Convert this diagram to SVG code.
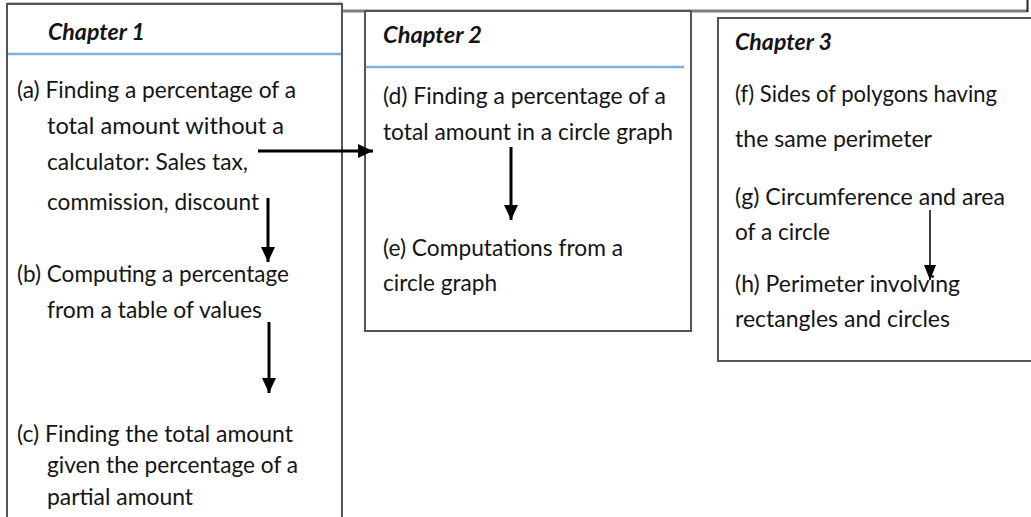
<svg xmlns="http://www.w3.org/2000/svg" width="1031" height="517" viewBox="0 0 1031 517">
<defs>
<style>
.t{font-family:"Lato","Liberation Sans",sans-serif;font-size:23px;fill:#141414}
.h{font-family:"Lato","Liberation Sans",sans-serif;font-size:22px;font-weight:bold;font-style:italic;fill:#141414}
.box{fill:#fff;stroke:#555;stroke-width:2}
.sep{stroke:#7fb1de;stroke-width:2.5}
.frame{stroke:#808080;stroke-width:3;fill:none}
.c{stroke:#000;stroke-width:3;fill:none}
.thin{stroke:#000;stroke-width:1.5;fill:none}
</style>
<marker id="ah" markerUnits="userSpaceOnUse" markerWidth="16" markerHeight="14" refX="15" refY="7" orient="auto">
<path d="M0,0 L15,7 L0,14 Z" fill="#000"/>
</marker>
<marker id="ahs" markerUnits="userSpaceOnUse" markerWidth="16" markerHeight="14" refX="15" refY="6" orient="auto">
<path d="M0,0 L15,6 L0,12 Z" fill="#000"/>
</marker>
</defs>
<rect width="1031" height="517" fill="#fff"/>
<g id="frame">
<line class="frame" x1="7" y1="4" x2="342" y2="4"/>
<line class="frame" x1="342" y1="11" x2="1027" y2="11"/>
<line x1="1027.5" y1="0" x2="1027.5" y2="12" stroke="#222" stroke-width="2"/>
</g>
<g id="chapter1">
<path class="box" d="M7,520 L7,4 L342,4 L342,520"/>
<line class="sep" x1="8" y1="54" x2="341" y2="54"/>
<text class="h" x="48" y="40" textLength="97" lengthAdjust="spacingAndGlyphs">Chapter 1</text>
<g id="item-a">
<text class="t" x="17" y="98" textLength="279" lengthAdjust="spacingAndGlyphs">(a) Finding a percentage of a</text>
<text class="t" x="47" y="134" textLength="237" lengthAdjust="spacingAndGlyphs">total amount without a</text>
<text class="t" x="47" y="170" textLength="201" lengthAdjust="spacingAndGlyphs">calculator: Sales tax,</text>
<text class="t" x="47" y="210" textLength="212" lengthAdjust="spacingAndGlyphs">commission, discount</text>
</g>
<g id="item-b">
<text class="t" x="17" y="282" textLength="272" lengthAdjust="spacingAndGlyphs">(b) Computing a percentage</text>
<text class="t" x="47" y="318" textLength="215" lengthAdjust="spacingAndGlyphs">from a table of values</text>
</g>
<g id="item-c">
<text class="t" x="17" y="442" textLength="276" lengthAdjust="spacingAndGlyphs">(c) Finding the total amount</text>
<text class="t" x="47" y="473" textLength="251" lengthAdjust="spacingAndGlyphs">given the percentage of a</text>
<text class="t" x="47" y="505" textLength="146" lengthAdjust="spacingAndGlyphs">partial amount</text>
</g>
</g>
<g id="chapter2">
<rect class="box" x="365" y="11" width="326" height="320" stroke="#333"/>
<line class="sep" x1="366" y1="67" x2="684" y2="67"/>
<text class="h" x="383" y="43" textLength="99" lengthAdjust="spacingAndGlyphs">Chapter 2</text>
<g id="item-d">
<text class="t" x="383" y="104" textLength="283" lengthAdjust="spacingAndGlyphs">(d) Finding a percentage of a</text>
<text class="t" x="383" y="140" textLength="290" lengthAdjust="spacingAndGlyphs">total amount in a circle graph</text>
</g>
<g id="item-e">
<text class="t" x="383" y="256" textLength="240" lengthAdjust="spacingAndGlyphs">(e) Computations from a</text>
<text class="t" x="383" y="291" textLength="114" lengthAdjust="spacingAndGlyphs">circle graph</text>
</g>
</g>
<g id="chapter3">
<path class="box" d="M1040,18 L718,18 L718,361 L1040,361" stroke="#444" stroke-width="2.5"/>
<text class="h" x="735" y="50" textLength="97" lengthAdjust="spacingAndGlyphs">Chapter 3</text>
<g id="item-f">
<text class="t" x="735" y="102" textLength="262" lengthAdjust="spacingAndGlyphs">(f) Sides of polygons having</text>
<text class="t" x="735" y="147" textLength="197" lengthAdjust="spacingAndGlyphs">the same perimeter</text>
</g>
<g id="item-g">
<text class="t" x="735" y="205" textLength="270" lengthAdjust="spacingAndGlyphs">(g) Circumference and area</text>
<text class="t" x="735" y="240" textLength="95" lengthAdjust="spacingAndGlyphs">of a circle</text>
</g>
<g id="item-h">
<text class="t" x="735" y="292" textLength="225" lengthAdjust="spacingAndGlyphs">(h) Perimeter involving</text>
<text class="t" x="735" y="327" textLength="215" lengthAdjust="spacingAndGlyphs">rectangles and circles</text>
</g>
</g>
<g id="connectors">
<line class="c" x1="258" y1="151" x2="373" y2="151" marker-end="url(#ah)"/>
<line class="c" x1="268" y1="198" x2="268" y2="262" marker-end="url(#ah)"/>
<line class="c" x1="269" y1="322" x2="269" y2="393" marker-end="url(#ah)"/>
<line class="c" x1="511" y1="147" x2="511" y2="220" marker-end="url(#ah)"/>
<line class="thin" x1="930" y1="210" x2="930" y2="280" marker-end="url(#ahs)"/>
</g>
</svg>
